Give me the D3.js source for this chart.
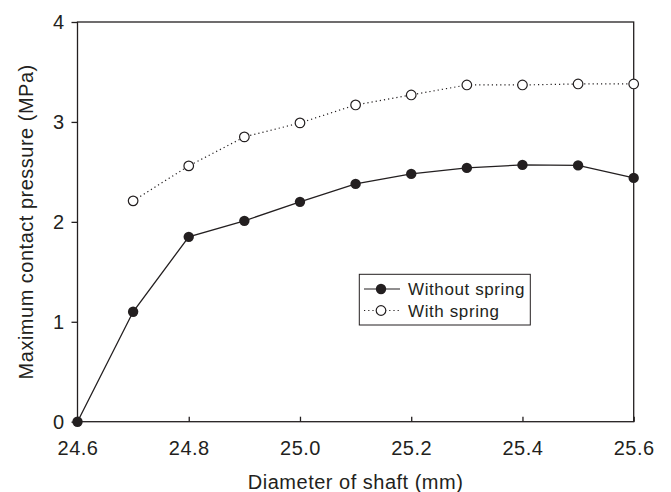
<!DOCTYPE html>
<html>
<head>
<meta charset="utf-8">
<script src="https://cdn.jsdelivr.net/npm/d3@7"></script>
<style>
  body { margin: 0; background: #fff; }
  text { font-family: "Liberation Sans", Arial, sans-serif; fill: #231f20; }
</style>
</head>
<body>
<div id="chart-area"></div>
<script>
// data
var diameters = [24.6, 24.7, 24.8, 24.9, 25.0, 25.1, 25.2, 25.3, 25.4, 25.5, 25.6];
var withoutSpring = [0, 1.10, 1.85, 2.01, 2.20, 2.38, 2.48, 2.54, 2.57, 2.565, 2.44];
var withSpringX = [24.7, 24.8, 24.9, 25.0, 25.1, 25.2, 25.3, 25.4, 25.5, 25.6];
var withSpring = [2.21, 2.56, 2.85, 2.99, 3.17, 3.27, 3.37, 3.37, 3.38, 3.38];
var xTicks = [24.6, 24.8, 25.0, 25.2, 25.4, 25.6];
var yTicks = [0, 1, 2, 3, 4];

var width = 671, height = 492;
var margin = {left: 77.5, right: 671 - 633.7, top: 22, bottom: 492 - 421.7};
var ink = "#231f20";

var svg = d3.select("#chart-area")
  .append("svg")
  .attr("width", width)
  .attr("height", height);

var x = d3.scaleLinear()
  .domain([24.6, 25.6])
  .range([margin.left, width - margin.right]);

var y = d3.scaleLinear()
  .domain([0, 4])
  .range([height - margin.bottom, margin.top]);

// frame
svg.append("rect")
  .attr("x", x(24.6))
  .attr("y", y(4))
  .attr("width", x(25.6) - x(24.6))
  .attr("height", y(0) - y(4))
  .attr("fill", "none")
  .attr("stroke", ink)
  .attr("stroke-width", 1.3);

function styleTicks(g) {
  g.select(".domain").remove();
  g.selectAll("line").attr("stroke", ink).attr("stroke-width", 1.3);
  g.selectAll("text")
    .attr("fill", ink)
    .style("font-family", "Liberation Sans, Arial, sans-serif")
    .style("font-size", "20px")
    .style("letter-spacing", "0.5px");
}

// x axis, ticks pointing inward
svg.append("g")
  .attr("transform", "translate(0," + y(0) + ")")
  .call(d3.axisBottom(x).tickValues(xTicks).tickFormat(d3.format(".1f"))
    .tickSizeInner(-5).tickSizeOuter(0).tickPadding(19))
  .call(styleTicks);

// y axis, ticks pointing outward
svg.append("g")
  .attr("transform", "translate(" + x(24.6) + ",0)")
  .call(d3.axisLeft(y).tickValues(yTicks).tickFormat(d3.format("d"))
    .tickSizeInner(6).tickSizeOuter(0).tickPadding(7))
  .call(styleTicks);

// axis titles
svg.append("text")
  .attr("x", (x(24.6) + x(25.6)) / 2)
  .attr("y", 489)
  .attr("text-anchor", "middle")
  .style("font-size", "20px")
  .style("letter-spacing", "0.5px")
  .text("Diameter of shaft (mm)");

svg.append("text")
  .attr("transform", "translate(33," + (y(0) + y(4)) / 2 + ") rotate(-90)")
  .attr("text-anchor", "middle")
  .style("font-size", "20px")
  .style("letter-spacing", "0.5px")
  .text("Maximum contact pressure (MPa)");

var line = d3.line()
  .x(d => x(d[0]))
  .y(d => y(d[1]));

var solidData = diameters.map((d, i) => [d, withoutSpring[i]]);
var dottedData = withSpringX.map((d, i) => [d, withSpring[i]]);

svg.append("path")
  .datum(dottedData)
  .attr("d", line)
  .attr("fill", "none")
  .attr("stroke", ink)
  .attr("stroke-width", 1.2)
  .attr("stroke-dasharray", "1.2,3");

svg.append("path")
  .datum(solidData)
  .attr("d", line)
  .attr("fill", "none")
  .attr("stroke", ink)
  .attr("stroke-width", 1.3);

svg.selectAll("circle.open")
  .data(dottedData)
  .enter()
  .append("circle")
  .attr("class", "open")
  .attr("cx", d => x(d[0]))
  .attr("cy", d => y(d[1]))
  .attr("r", 4.8)
  .attr("fill", "#fff")
  .attr("stroke", ink)
  .attr("stroke-width", 1.2);

svg.selectAll("circle.filled")
  .data(solidData)
  .enter()
  .append("circle")
  .attr("class", "filled")
  .attr("cx", d => x(d[0]))
  .attr("cy", d => y(d[1]))
  .attr("r", 5.2)
  .attr("fill", ink);

// legend
var legend = svg.append("g");
legend.append("rect")
  .attr("x", 359.3)
  .attr("y", 274.3)
  .attr("width", 171)
  .attr("height", 50.7)
  .attr("fill", "#fff")
  .attr("stroke", ink)
  .attr("stroke-width", 1);

var rows = [
  {label: "Without spring", dash: null, fill: ink, cy: 289},
  {label: "With spring", dash: "1.2,3", fill: "#fff", cy: 310.5}
];
rows.forEach(r => {
  legend.append("line")
    .attr("x1", 364).attr("x2", 400)
    .attr("y1", r.cy).attr("y2", r.cy)
    .attr("stroke", ink)
    .attr("stroke-width", 1.2)
    .attr("stroke-dasharray", r.dash);
  legend.append("circle")
    .attr("cx", 381).attr("cy", r.cy)
    .attr("r", r.fill === ink ? 5.2 : 4.8)
    .attr("fill", r.fill)
    .attr("stroke", ink)
    .attr("stroke-width", r.fill === ink ? 0 : 1.2);
  legend.append("text")
    .attr("x", 408)
    .attr("y", r.cy + 6)
    .style("font-size", "17px")
    .style("letter-spacing", "0.6px")
    .text(r.label);
});
</script>
</body>
</html>
